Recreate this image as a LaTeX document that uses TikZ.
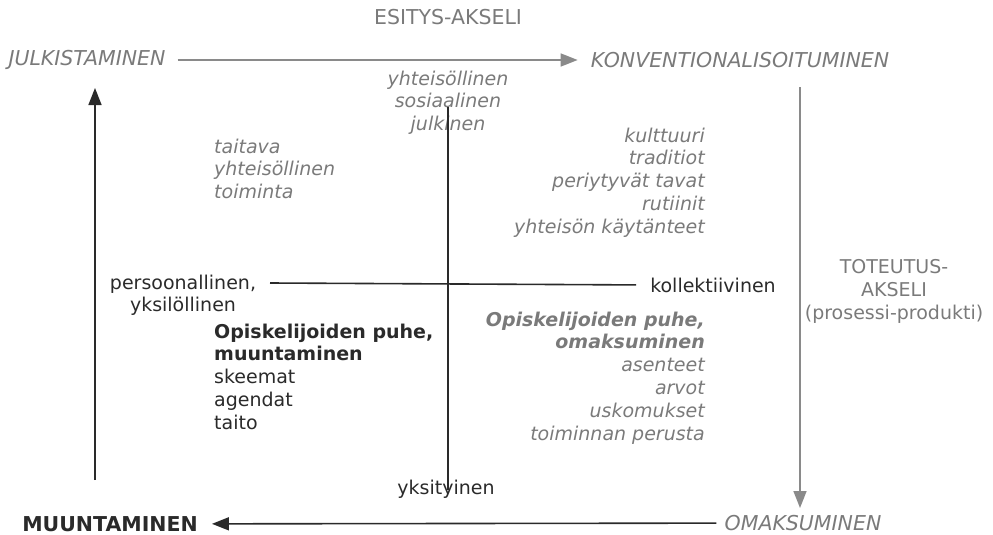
\documentclass[tikz,border=0pt]{standalone}
\usepackage{fontspec}
\setmainfont{DejaVu Sans}
\usetikzlibrary{arrows.meta}
\definecolor{harmaa}{HTML}{7A7A7A}
\definecolor{tumma}{HTML}{2A2A2A}
\definecolor{viiva}{HTML}{8A8A8A}
\tikzset{
  teksti/.style={inner sep=0pt, font=\fontsize{19}{22.8}\selectfont},
  isot/.style={font=\fontsize{20.5}{22.8}\selectfont},
  pysty/.style={teksti, text=harmaa},
  kursiivi/.style={teksti, text=harmaa, font=\fontsize{19}{22.8}\selectfont\itshape},
  musta/.style={teksti, text=tumma},
  nuoli/.style={line width=1.6pt, -{Triangle[length=17pt,width=13pt]}},
}

\begin{document}
\begin{tikzpicture}[x=1pt, y=-1pt]
  \useasboundingbox (0,0) rectangle (993,535);

  % Akselien nimet.
  \node[pysty, isot] (esitys) at (448,17) {ESITYS-AKSELI};
  \node[kursiivi, font=\fontsize{20.5}{22.8}\selectfont\itshape] (julk) at (87,60) {JULKISTAMINEN};
  \node[kursiivi, font=\fontsize{20.5}{22.8}\selectfont\itshape] (konv) at (740,60) {KONVENTIONALISOITUMINEN};
  \node[musta, font=\fontsize{20.5}{22.8}\selectfont\bfseries] (muun) at (110,524) {MUUNTAMINEN};
  \node[kursiivi, font=\fontsize{20.5}{22.8}\selectfont\itshape] (omak) at (803,523) {OMAKSUMINEN};
  \node[pysty, align=center, anchor=north] (toteutus) at (894,259.5) {TOTEUTUS-\\AKSELI\\(prosessi-produkti)};

  % Nelikentän tekstit.
  \node[kursiivi, align=center, anchor=north] (julkinen) at (448,70.5) {yhteisöllinen\\sosiaalinen\\julkinen};
  \node[kursiivi, align=left, anchor=north west] (taitava) at (214,138.5) {taitava\\yhteisöllinen\\toiminta};
  \node[kursiivi, align=right, anchor=north east] (kulttuuri) at (705,127.5) {kulttuuri\\traditiot\\periytyvät tavat\\rutiinit\\yhteisön käytänteet};
  \node[musta, align=center, anchor=north] (pers) at (183,274.5) {persoonallinen,\\yksilöllinen};
  \node[musta] (koll) at (713,285) {kollektiivinen};
  \node[musta, align=left, anchor=north west] (skeemat) at (214,323.5) {\textbf{Opiskelijoiden puhe,}\\\textbf{muuntaminen}\\skeemat\\agendat\\taito};
  \node[kursiivi, align=right, anchor=north east] (asenteet) at (705,311.5) {\textbf{Opiskelijoiden puhe,}\\\textbf{omaksuminen}\\asenteet\\arvot\\uskomukset\\toiminnan perusta};
  \node[musta] (yksit) at (446,489) {yksityinen};

  % Viivat.
  \coordinate (vasen ala) at (95,480);
  \coordinate (vasen yla) at (95,88);
  \coordinate (oikea yla) at (800,87);
  \coordinate (oikea ala) at (800,508);
  \coordinate (keski yla) at (448,107);
  \coordinate (keski ala) at (448,490);
  \coordinate (vaaka vasen) at (270,283);

  \draw[nuoli, viiva, shorten <=12pt, shorten >=13pt] (julk) -- (konv);
  \draw[nuoli, viiva] (oikea yla) -- (oikea ala);
  \draw[nuoli, tumma, shorten <=8pt, shorten >=14pt] (omak) -- (muun);
  \draw[nuoli, tumma] (vasen ala) -- (vasen yla);
  \draw[tumma, line width=1.6pt] (keski yla) -- (keski ala);
  \draw[tumma, line width=1.6pt, shorten >=14pt] (vaaka vasen) -- (koll.west);
\end{tikzpicture}
\end{document}
